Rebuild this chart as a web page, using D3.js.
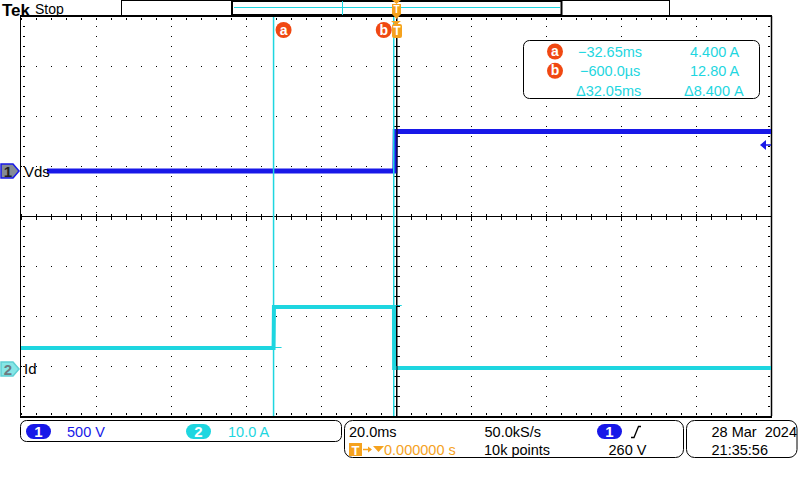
<!DOCTYPE html>
<html><head><meta charset="utf-8">
<script src="https://cdn.jsdelivr.net/npm/d3@7"></script>
<style>
html,body{margin:0;padding:0;background:#fff;}
svg{display:block;}
text{font-family:"Liberation Sans",Arial,sans-serif;white-space:pre;}
</style></head>
<body>
<svg id="c" width="800" height="480"></svg>
<script>
// ---------------- data ----------------
const timeDomainMs = [-100, 100];          // 10 div x 20.0 ms
const vdsTimes  = [-93.1, -0.3, -0.2, 100]; // ms
const vdsVolts  = [0, 0, 395, 395];         // V  (CH1, 500 V/div)
const idTimes   = [-100, -32.65, -32.6, -32.55, -0.55, -0.5, 100]; // ms
const idAmps    = [4.2, 4.2, 7.5, 12.4, 12.4, 0.2, 0.2];          // A (CH2, 10.0 A/div)
const cursorTimes  = [-32.65, -0.6];
const cursorNames  = ["a", "b"];
const cursorAmps   = [4.4, 12.8];
const readTimes    = ["\u221232.65ms", "\u2212600.0\u00b5s", "\u039432.05ms"];
const readAmps     = ["4.400 A", "12.80 A", "\u03948.400 A"];
const trigLevelV   = 260;
const chanScales   = ["500 V", "10.0 A"];
const horizInfo    = ["20.0ms", "0.000000 s", "50.0kS/s", "10k points", "260 V"];
const dateInfo     = ["28 Mar  2024", "21:35:56"];

// ---------------- setup ----------------
const BLUE = "#1818e8", CYAN = "#1ed6e0", ORANGE = "#f5a21e", RED = "#f04812";
const svg = d3.select("#c");
const L = 21, R = 771, T = 16, B = 416;
const x = d3.scaleLinear().domain(timeDomainMs).range([L, R]);
const yDiv = d3.scaleLinear().domain([-4, 4]).range([B, T]);
const yVds = d3.scaleLinear().domain([-2450, 1550]).range([B, T]);
const yId  = d3.scaleLinear().domain([-9.4, 70.6]).range([B, T]);

// ---------------- grid ----------------
const g = svg.append("g");
const majorX = d3.range(-100, 100.001, 20);
const minorX = d3.range(-100, 100.001, 4);
const majorY = d3.range(-4, 4.001, 1);
const minorY = d3.range(-4, 4.001, 0.2);
majorX.filter(t => t !== 0 && Math.abs(t) !== 100).forEach(t => {
  minorY.forEach(d => g.append("rect").attr("x", Math.round(x(t))).attr("y", Math.round(yDiv(d))).attr("width",1).attr("height",1).attr("fill","#000"));
  [-0.04,0.04,-0.08,0.08].forEach(o => g.append("rect").attr("x", Math.round(x(t))).attr("y", Math.round(yDiv(o))).attr("width",1).attr("height",1).attr("fill","#000"));
});
majorY.filter(d => d !== 0 && Math.abs(d) !== 4).forEach(d => {
  minorX.forEach(t => g.append("rect").attr("x", Math.round(x(t))).attr("y", Math.round(yDiv(d))).attr("width",1).attr("height",1).attr("fill","#000"));
});
g.append("line").attr("x1",L).attr("x2",R).attr("y1",yDiv(0)+0.5).attr("y2",yDiv(0)+0.5).attr("stroke","#000");
g.append("line").attr("x1",x(0)+0.5).attr("x2",x(0)+0.5).attr("y1",T).attr("y2",B).attr("stroke","#000");
minorX.forEach(t => g.append("line").attr("x1",Math.round(x(t))+0.5).attr("x2",Math.round(x(t))+0.5).attr("y1",yDiv(0)-2).attr("y2",yDiv(0)+4).attr("stroke","#000"));
minorY.forEach(d => g.append("line").attr("y1",Math.round(yDiv(d))+0.5).attr("y2",Math.round(yDiv(d))+0.5).attr("x1",x(0)-2).attr("x2",x(0)+4).attr("stroke","#000"));
minorX.forEach(t => {
  g.append("rect").attr("x",Math.round(x(t))).attr("y",T+2).attr("width",1).attr("height",2).attr("fill","#000");
  g.append("rect").attr("x",Math.round(x(t))).attr("y",B-3).attr("width",1).attr("height",2).attr("fill","#000");
});
minorY.forEach(d => {
  g.append("rect").attr("x",L+2).attr("y",Math.round(yDiv(d))).attr("width",2).attr("height",1).attr("fill","#000");
  g.append("rect").attr("x",R-3).attr("y",Math.round(yDiv(d))).attr("width",2).attr("height",1).attr("fill","#000");
});
g.append("line").attr("x1",L-1).attr("x2",R+1).attr("y1",T).attr("y2",T).attr("stroke","#000").attr("stroke-width",2);
g.append("line").attr("x1",L-1).attr("x2",R+1).attr("y1",B+1).attr("y2",B+1).attr("stroke","#000").attr("stroke-width",2);
g.append("line").attr("x1",L-0.5).attr("x2",L-0.5).attr("y1",T).attr("y2",B).attr("stroke","#000");
g.append("line").attr("x1",R+0.5).attr("x2",R+0.5).attr("y1",T).attr("y2",B).attr("stroke","#000").attr("stroke-width",1.5);

// ---------------- traces ----------------
const vdsData = vdsTimes.map((t,i)=>({t, v:vdsVolts[i]}));
const idData  = idTimes.map((t,i)=>({t, v:idAmps[i]}));
svg.append("path").datum(vdsData)
  .attr("d", d3.line().x(d=>x(d.t)).y(d=>yVds(d.v)))
  .attr("fill","none").attr("stroke",BLUE).attr("stroke-width",5);
svg.append("path").datum(idData)
  .attr("d", d3.line().x(d=>x(d.t)).y(d=>yId(d.v)))
  .attr("fill","none").attr("stroke",CYAN).attr("stroke-width",4);

// cursors
cursorTimes.forEach((t,i) => {
  const cx = x(t);
  svg.append("line").attr("x1",cx).attr("x2",cx).attr("y1",T+1).attr("y2",B).attr("stroke",CYAN).attr("stroke-width",1.5);
  svg.append("line").attr("x1",cx).attr("x2",cx+8).attr("y1",Math.round(yId(cursorAmps[i]))+0.5).attr("y2",Math.round(yId(cursorAmps[i]))+0.5).attr("stroke",CYAN).attr("stroke-width",1);
  svg.append("circle").attr("cx", i===0 ? cx+10 : cx-10).attr("cy",30).attr("r",8).attr("fill",RED);
  svg.append("text").attr("x", i===0 ? cx+10 : cx-10).attr("y",35).attr("text-anchor","middle")
    .attr("font-size",14).attr("font-weight","bold").attr("fill","#fff").text(cursorNames[i]);
});
svg.append("line").attr("x1",x(0)+1).attr("x2",x(0)+1).attr("y1",T).attr("y2",B).attr("stroke","#000").attr("stroke-width",1);

// trigger marker (top of graticule)
const tx = x(0);
svg.append("path").attr("d",`M${tx-5},${T+5}L${tx+5},${T+5}L${tx},${T+9}Z`).attr("fill",ORANGE);
svg.append("rect").attr("x",tx-4).attr("y",T+8).attr("width",10).attr("height",14).attr("rx",2).attr("fill",ORANGE);
svg.append("text").attr("x",tx+1).attr("y",T+19).attr("text-anchor","middle").attr("font-size",12).attr("font-weight","bold").attr("fill","#fff").text("T");

// trigger level arrow (right)
const ty = yVds(trigLevelV);
svg.append("path").attr("d",`M${R-11},${ty}L${R-5},${ty-5}L${R-5},${ty+5}Z`).attr("fill",BLUE);
svg.append("line").attr("x1",R-6).attr("x2",R).attr("y1",ty).attr("y2",ty).attr("stroke",BLUE).attr("stroke-width",1.5);

// channel markers
function marker(y0, fill, stroke, label, txt) {
  svg.append("path").attr("d",`M1,${y0-7}L13,${y0-7}L19,${y0}L13,${y0+7}L1,${y0+7}Z`)
    .attr("fill",fill).attr("stroke",stroke).attr("stroke-width",1.5);
  svg.append("text").attr("x",8).attr("y",y0+6).attr("text-anchor","middle").attr("font-size",15).attr("font-weight","bold").attr("fill",txt).text(label);
}
marker(yVds(0), "#848b96", BLUE, "1", "#222");
marker(yId(0), "#86e6e6", "#5fd0d4", "2", "#6d7a80");
svg.append("text").attr("x",24).attr("y",yVds(0)+6).attr("font-size",15).attr("fill","#000").text("Vds");
svg.append("text").attr("x",24).attr("y",yId(0)+5).attr("font-size",15).attr("fill","#000").text("Id");

// cursor readout
svg.append("rect").attr("x",523.5).attr("y",40.5).attr("width",236).attr("height",58).attr("rx",6).attr("fill","#fff").attr("stroke","#000");
readTimes.forEach((s,i) => {
  const by = 57 + i*19.3;
  if (i < 2) {
    svg.append("circle").attr("cx",555).attr("cy",by-5.5).attr("r",8).attr("fill",RED);
    svg.append("text").attr("x",555).attr("y",by-1).attr("text-anchor","middle").attr("font-size",14).attr("font-weight","bold").attr("fill","#fff").text(cursorNames[i]);
  }
  svg.append("text").attr("x",[578,580,576][i]).attr("y",by).attr("font-size",14.5).attr("fill",CYAN).text(s);
  svg.append("text").attr("x",[690,690,684][i]).attr("y",by).attr("font-size",14.5).attr("fill",CYAN).text(readAmps[i]);
});

// ---------------- top bar ----------------
svg.append("text").attr("x",2).attr("y",15.5).attr("font-family","Liberation Serif").attr("font-weight","bold").attr("font-size",17).attr("fill","#000").text("Tek");
svg.append("text").attr("x",35).attr("y",13.5).attr("font-size",14).attr("fill","#000").text("Stop");
svg.append("rect").attr("x",121.5).attr("y",0.5).attr("width",548).attr("height",15).attr("fill","#fff").attr("stroke","#000");
svg.append("rect").attr("x",232).attr("y",1).attr("width",329.5).attr("height",14).attr("fill","none").attr("stroke","#000").attr("stroke-width",2);
svg.append("line").attr("x1",234).attr("x2",560).attr("y1",7.5).attr("y2",7.5).attr("stroke",CYAN);
svg.append("line").attr("x1",342.5).attr("x2",342.5).attr("y1",1).attr("y2",15).attr("stroke",CYAN);
svg.append("path").attr("d",`M${tx-4},0L${tx+5},0L${tx+0.5},4Z`).attr("fill",ORANGE);
svg.append("rect").attr("x",tx-4).attr("y",4).attr("width",9).attr("height",10).attr("fill",ORANGE);
svg.append("text").attr("x",tx+0.5).attr("y",13).attr("text-anchor","middle").attr("font-size",10).attr("font-weight","bold").attr("fill","#fff").text("T");
svg.append("path").attr("d",`M${tx-4},14L${tx+5},14L${tx+0.5},19Z`).attr("fill",ORANGE);

// ---------------- bottom bar ----------------
svg.append("rect").attr("x",20.5).attr("y",420.5).attr("width",321).attr("height",21).attr("rx",6).attr("fill","#fff").attr("stroke","#000");
function pill(xp, y0, fill, label) {
  svg.append("rect").attr("x",xp).attr("y",y0).attr("width",25).attr("height",15).attr("rx",7.5).attr("fill",fill);
  svg.append("text").attr("x",xp+12.5).attr("y",y0+13).attr("text-anchor","middle").attr("font-size",15).attr("font-weight","bold").attr("fill","#fff").text(label);
}
pill(26, 424, BLUE, "1");
svg.append("text").attr("x",67).attr("y",436.5).attr("font-size",14.5).attr("fill",BLUE).text(chanScales[0]);
pill(186, 424, CYAN, "2");
svg.append("text").attr("x",228).attr("y",436.5).attr("font-size",14.5).attr("fill",CYAN).text(chanScales[1]);

svg.append("rect").attr("x",344.5).attr("y",420.5).attr("width",339).attr("height",37).attr("rx",8).attr("fill","#fff").attr("stroke","#000");
svg.append("text").attr("x",349).attr("y",436.5).attr("font-size",14.5).attr("fill","#000").text(horizInfo[0]);
svg.append("rect").attr("x",349).attr("y",443).attr("width",13).attr("height",13).attr("fill",ORANGE);
svg.append("text").attr("x",355.5).attr("y",454.5).attr("text-anchor","middle").attr("font-size",13).attr("font-weight","bold").attr("fill","#fff").text("T");
svg.append("line").attr("x1",363).attr("x2",371).attr("y1",449.5).attr("y2",449.5).attr("stroke",ORANGE).attr("stroke-width",1.5);
svg.append("path").attr("d","M368,446.5L372,449.5L368,452.5Z").attr("fill",ORANGE);
svg.append("path").attr("d","M373,446L384,446L378.5,452Z").attr("fill",ORANGE);
svg.append("text").attr("x",384).attr("y",455).attr("font-size",14.5).attr("fill",ORANGE).text(horizInfo[1]);
svg.append("text").attr("x",484.5).attr("y",436.5).attr("font-size",14.5).attr("fill","#000").text(horizInfo[2]);
svg.append("text").attr("x",484).attr("y",455).attr("font-size",14.5).attr("fill","#000").text(horizInfo[3]);
pill(597, 424, BLUE, "1");
svg.append("path").attr("d","M631,437.5L634,437.5L638.5,426.5L641,426.5").attr("fill","none").attr("stroke","#000").attr("stroke-width",1.3);
svg.append("text").attr("x",608.5).attr("y",455).attr("font-size",14.5).attr("fill","#000").text(horizInfo[4]);

svg.append("rect").attr("x",686.5).attr("y",420.5).attr("width",110.5).attr("height",37).attr("rx",8).attr("fill","#fff").attr("stroke","#000");
svg.append("text").attr("x",711.5).attr("y",436.5).attr("font-size",14.5).attr("fill","#000").text(dateInfo[0]);
svg.append("text").attr("x",711.5).attr("y",455).attr("font-size",14.5).attr("fill","#000").text(dateInfo[1]);
</script>
</body></html>
